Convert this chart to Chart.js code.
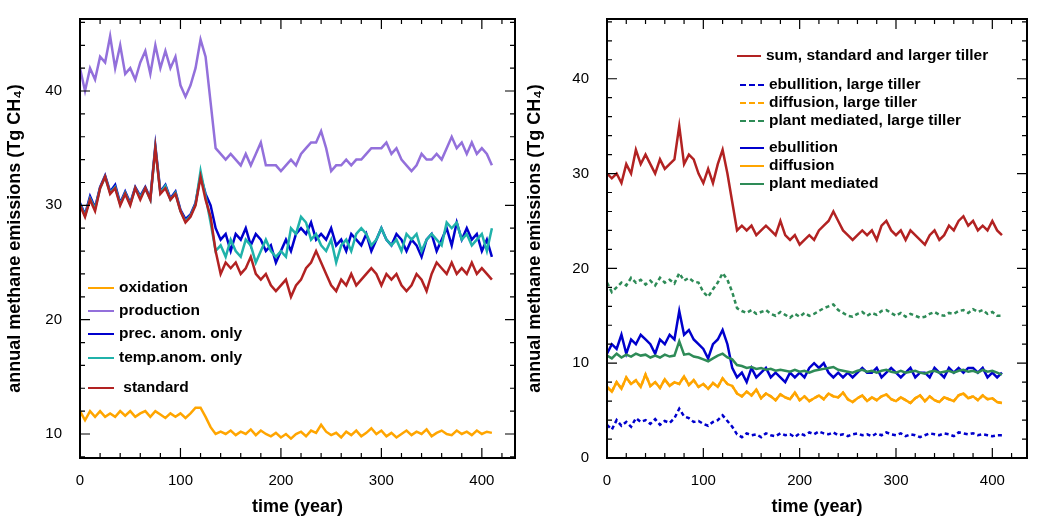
<!DOCTYPE html>
<html><head><meta charset="utf-8">
<script src="https://cdn.jsdelivr.net/npm/chart.js@4"></script>
<style>
body{margin:0;width:1041px;height:522px;background:#fff;position:relative;overflow:hidden;font-family:"Liberation Sans",Arial,sans-serif}
.cv{position:absolute;top:0}
.lg{position:absolute;font-weight:bold;font-size:15.5px;color:#000;white-space:nowrap;line-height:18px}
.lg span.ln{display:inline-block;vertical-align:middle;margin-right:5px;height:0;border-top-width:2.5px}
</style></head><body>
<div class="cv" style="left:0;width:530px;height:522px"><canvas id="c1"></canvas></div>
<div class="cv" style="left:520px;width:521px;height:522px"><canvas id="c2"></canvas></div>
<div id="lg1"></div><div id="lg2"></div>
<script>
const years=[0,5,10,15,20,25,30,35,40,45,50,55,60,65,70,75,80,85,90,95,100,105,110,115,120,125,130,135,140,145,150,155,160,165,170,175,180,185,190,195,200,205,210,215,220,225,230,235,240,245,250,255,260,265,270,275,280,285,290,295,300,305,310,315,320,325,330,335,340,345,350,355,360,365,370,375,380,385,390,395,400,405,410];
const production=[42,40,42,41,43,42.5,44.8,42,44,41.5,42,41,42.5,43.5,41.5,44,42,43.5,42,43,40.5,39.5,40.5,42,44.5,43,39,35,34.5,34,34.5,34,33.5,34.5,33.5,34.5,35.5,33.5,33.5,33.5,33,33.5,34,33.5,34.5,35,35.5,35.5,36.5,35,33,33.5,33.5,34,33.5,34,34,34.5,35,35,35,35.5,34.5,35,34,33.5,33,33.5,34.5,34,34,34.5,34,35,36,35,35.5,34.5,35.5,34.5,35,34.5,33.5];
const standard=[30,29,30.5,29.5,31.5,32.5,31,31.5,30,31,30,31.5,30.5,31.5,30.5,35,31,31.5,30.5,31,29.5,28.5,29,30,32.5,30.5,29,26,24,25,24.5,25,24,24.5,25.5,24,23.5,24,23,22.5,23,23.5,22,23,23.5,24.5,25,26,25,24,23,22.5,23.5,23,24,23,23.5,24,24.5,24,23,24,23.5,24,23,22.5,23,24,23.5,22.5,24,25,24.5,24,25,24,24.5,24,25,24,24.5,24,23.5];
const precAnom=[30.2,29.2,30.8,29.8,31.6,32.6,31.2,31.8,30.2,31.2,30.2,31.6,30.8,31.6,30.6,35.2,31.2,31.8,30.6,31.2,29.6,28.8,29.2,30.2,32.6,31,30,28,27,27.5,26,27.5,27,28,26.5,27.5,27,26,26.5,25,26,27,26,27.5,28,27.5,28.5,27,27.5,27,28,26.5,27,26,27.5,27,26.5,27.5,26,27,28,27,26.5,27.5,27,26,27,26.5,25.5,27,27.5,26,27,28,26.5,28.5,27,28,27,27.5,26,27,25.5,25];
const tempAnom=[30.1,29.1,30.6,29.7,31.5,32.5,31.1,31.6,30.1,31.1,30.1,31.5,30.7,31.5,30.5,35,31.1,31.7,30.5,31.1,29.5,28.6,29.1,30.1,33,30.8,28.5,26,26.5,25.5,27,26,25.5,27,26.5,25,26,27,26,25.5,26,25.5,28,27.5,29,28.5,27,27.5,26.5,26,27,25,26.5,27,26,27.5,28,27.5,26.5,27,28,27,26.5,27,26,27.5,27,27.5,26,27,27.5,27,26.5,28.5,28,28.5,27,27.5,26.5,27,27.5,26,28];
const oxidation=[12,11.2,12,11.5,12,11.5,11.8,11.5,12,11.6,12,11.5,11.8,12,11.5,12,11.7,11.4,11.8,11.5,11.8,11.4,11.8,12.3,12.3,11.5,10.6,10,10.2,10,10.3,9.9,10.2,10,10.4,9.9,10.3,10,9.8,10.1,9.7,10,9.6,10,10.2,9.8,10.3,10.1,10.8,10.2,9.9,10.1,9.7,10.2,9.9,10.3,9.8,10.1,10.5,10,10.3,9.8,10.1,9.7,10,10.3,9.9,10.2,10,10.4,9.8,10.1,10.3,10,9.9,10.3,10,10.2,9.9,10.3,10,10.2,10.1];
const sumTotal=[30,29.5,30,29,31,30,32.5,31,32,31,30,31.5,30.5,31,31.5,35,31,32,31.5,30,29,30.5,29,31,32.5,30,27,24,24.5,24,24.5,23.5,24,24.5,24,23.5,25,23.5,23,23.5,22.5,23,23.5,23,24,24.5,25,26,25,24,23.5,23,23.5,24,23.5,24,23,24.5,25,24,23.5,24,23,24,23.5,23,22.5,23.5,24,23,23.5,24.5,24,25,25.5,24.5,25,24,24.5,24,25,24,23.5];
const plantLarge=[18.5,17.5,18,18.5,18.2,19,18.5,18.8,18.3,18.7,18.2,19,18.5,18.8,18.4,19.5,18.7,19,18.6,18.5,17.5,17,17.8,18.5,19.5,18.8,17.5,15.8,15.5,15.3,15.6,15.2,15.4,15.6,15.2,15,15.4,15.1,14.8,15.2,14.9,15.3,15,15.2,15.5,15.8,16,16.2,15.6,15.3,15,14.9,15.2,15.4,15,15.3,15.1,15.5,15.6,15.3,15,15.3,14.9,15.2,15,14.8,14.9,15.2,15.4,15.1,15,15.3,15.2,15.5,15.6,15.3,15.7,15.4,15.6,15.2,15.4,15,15];
const ebullition=[11,12,11.5,13,11,12.5,12,13,12.5,12,11,12.5,12,13,12.5,15.5,13,13.5,12.5,12,11.5,10.5,12,12.5,13.5,12,9.5,8.5,9,8,9.5,8.5,9,9.5,8.5,9,8.5,8,9,8.5,9,8.5,9.5,10,9.5,10,9,8.5,9,8.5,9,8.5,9,9.5,9,9,9.5,8.5,9,9.5,9,8.5,9,9.5,8.5,9,9,8.5,9.5,9,8.5,9.5,9,9.5,9,9.5,9.5,9,9.5,8.5,9,8.5,9];
const plantMed=[10.8,10.5,11,10.6,10.9,10.7,11,10.8,10.9,10.6,10.8,10.6,10.9,10.7,10.8,12.3,10.9,11,10.7,10.6,10.4,10.2,10.5,10.8,11,10.6,10.4,9.8,9.7,9.5,9.6,9.4,9.5,9.3,9.4,9.2,9.3,9.2,9.1,9.3,9.1,9.2,9,9.2,9.3,9.4,9.5,9.6,9.3,9.2,9.1,9,9.2,9.3,9.1,9.2,9,9.2,9.3,9.1,9,9.2,9,9.1,9.2,9,8.9,9.1,9.2,9,9.1,9.2,9,9.2,9.3,9.1,9.2,9,9.3,9.1,9.2,9,8.8];
const diffusion=[7.5,7,8,7.3,8.5,7.8,8.2,7.5,8.8,7.6,8,7.4,8.3,7.6,8,7.8,8.6,7.7,8.2,7.5,7.8,7.3,7.9,7.5,8.4,7.8,7.6,6.8,6.5,7,6.6,7.2,6.3,6.8,6.5,6.1,6.7,6.4,6.2,6.9,6.1,6.5,6,6.3,6.6,6.2,6.8,6.5,6.4,6.9,6.2,5.9,6.3,6.6,6,6.4,6.1,6.5,6.7,6.2,6,6.4,6.1,5.8,6.3,6.6,6,6.5,6.1,5.9,6.4,6.2,6,6.6,6.8,6.3,6.5,6.1,6.6,6.2,6.3,5.9,5.8];
const diffusionLarge=diffusion.slice();
const ebullLarge=[3.5,3,4,3.4,3.8,3.3,4.2,3.8,4,3.6,4.1,3.5,3.9,3.7,4.2,5.2,4.4,4.2,3.8,3.9,3.6,3.4,3.8,4,4.5,3.9,3.3,2.5,2.2,2.6,2.4,2.5,2.2,2.6,2.4,2.3,2.6,2.4,2.5,2.2,2.6,2.4,2.7,2.5,2.8,2.6,2.5,2.7,2.4,2.5,2.3,2.5,2.6,2.4,2.5,2.3,2.6,2.4,2.7,2.5,2.4,2.6,2.3,2.5,2.4,2.2,2.4,2.6,2.5,2.4,2.6,2.5,2.3,2.7,2.6,2.5,2.6,2.4,2.5,2.4,2.3,2.4,2.4];
const xTickLabels=[0,100,200,300,400];
const yTicksLeft=[10,20,30,40];
const yTicksRight=[0,10,20,30,40];

const pts=a=>a.map((v,i)=>({x:years[i],y:v}));
const ds=(label,data,color,dash)=>({label,data:pts(data),borderColor:color,borderWidth:2.5,pointRadius:0,fill:false,tension:0,borderDash:dash||[]});
const C={ox:'#FFA500',prod:'#9370DB',prec:'#0000CD',temp:'#20B2AA',std:'#B22222',green:'#2E8B57'};

const ticksPlugin={id:'tk',afterDraw(ch){
  const c=ch.ctx,a=ch.chartArea,x=ch.scales.x,y=ch.scales.y;
  c.save();c.strokeStyle='#000';c.lineWidth=1.2;c.beginPath();
  for(let v=0;v<=x.max;v+=20){const p=x.getPixelForValue(v),L=v%100===0?10:5;c.moveTo(p,a.bottom);c.lineTo(p,a.bottom-L);c.moveTo(p,a.top);c.lineTo(p,a.top+L);}
  for(let v=Math.ceil(y.min/2)*2;v<=y.max;v+=2){const p=y.getPixelForValue(v),L=v%10===0?10:5;c.moveTo(a.left,p);c.lineTo(a.left+L,p);c.moveTo(a.right,p);c.lineTo(a.right-L,p);}
  c.stroke();c.lineWidth=2;c.strokeRect(a.left,a.top,a.right-a.left,a.bottom-a.top);c.restore();}};

function opts(xmax,ymin,ymax,yw,rp,yt){return{responsive:true,maintainAspectRatio:false,animation:false,
 layout:{padding:{top:17,right:rp,left:0,bottom:0}},
 plugins:{legend:{display:false},tooltip:{enabled:false}},
 scales:{x:{type:'linear',min:0,max:xmax,grid:{display:false},border:{display:false},
   afterFit:s=>{s.height=64},afterBuildTicks:s=>{s.ticks=xTickLabels.map(v=>({value:v}))},
   ticks:{autoSkip:false,maxRotation:0,padding:6,color:'#000',font:{family:'Liberation Sans',size:15}},
   title:{display:true,text:'time (year)',color:'#000',font:{family:'Liberation Sans',size:18,weight:'bold'},padding:{top:4}}},
  y:{min:ymin,max:ymax,grid:{display:false},border:{display:false},afterFit:s=>{s.width=yw},
   afterBuildTicks:s=>{s.ticks=yt.map(v=>({value:v}))},
   ticks:{autoSkip:false,padding:10,color:'#000',font:{family:'Liberation Sans',size:15}},
   title:{display:true,text:'annual methane emissions (Tg CH₄)',color:'#000',font:{family:'Liberation Sans',size:18,weight:'bold'},padding:{bottom:2}}}}}}

new Chart(document.getElementById('c1'),{type:'line',data:{datasets:[
 ds('oxidation',oxidation,C.ox),ds('production',production,C.prod),ds('standard',standard,C.std),
 ds('temp.anom. only',tempAnom,C.temp),ds('prec. anom. only',precAnom,C.prec)]},
 options:opts(433,7.9,46.3,80,15,yTicksLeft),plugins:[ticksPlugin]});
new Chart(document.getElementById('c2'),{type:'line',data:{datasets:[
 ds('ebullition, large tiller',ebullLarge,C.prec,[4,3]),ds('diffusion, large tiller',diffusionLarge,C.ox,[4,3]),
 ds('plant mediated, large tiller',plantLarge,C.green,[4,3]),ds('plant mediated',plantMed,C.green),
 ds('diffusion',diffusion,C.ox),ds('ebullition',ebullition,C.prec),ds('sum, standard and larger tiller',sumTotal,C.std)]},
 options:opts(436,0,46.3,87,14,yTicksRight),plugins:[ticksPlugin]});

function legend(id,items){const el=document.getElementById(id);
 items.forEach(([t,col,dash,x,y,w])=>{const d=document.createElement('div');d.className='lg';d.style.left=x+'px';d.style.top=(y-9)+'px';
  d.innerHTML='<span class="ln" style="width:'+w+'px;border-top:2.5px '+(dash?'dashed':'solid')+' '+col+'"></span>'+t;el.appendChild(d);});}
legend('lg1',[['oxidation',C.ox,0,88,287,26],['production',C.prod,0,88,310,26],['prec. anom. only',C.prec,0,88,333,26],['temp.anom. only',C.temp,0,88,357,26],['&nbsp;standard',C.std,0,88,387,26]]);
legend('lg2',[['sum, standard and larger tiller',C.std,0,737,55,24],['ebullition, large tiller',C.prec,1,740,84,24],['diffusion, large tiller',C.ox,1,740,102,24],['plant mediated, large tiller',C.green,1,740,120,24],['ebullition',C.prec,0,740,147,24],['diffusion',C.ox,0,740,165,24],['plant mediated',C.green,0,740,183,24]]);
</script></body></html>
